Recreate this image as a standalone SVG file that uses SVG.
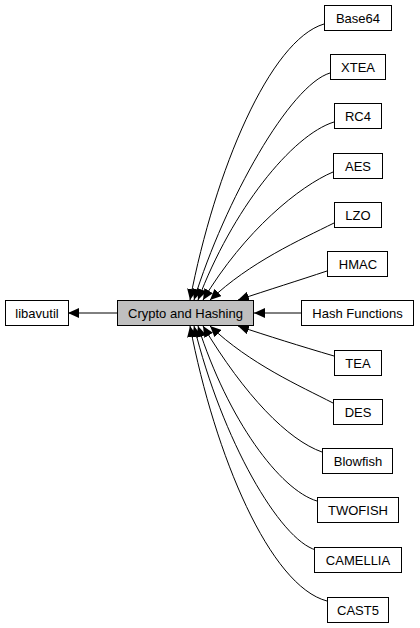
<svg xmlns="http://www.w3.org/2000/svg" width="420" height="628" viewBox="0 0 420 628">
<style>
.n rect{fill:#fff;stroke:#000;stroke-width:1}
.n text{font-family:"Liberation Sans",Arial,sans-serif;font-size:13px;text-anchor:middle;fill:#000}
#crypto rect{fill:#bfbfbf}
.e path{fill:none;stroke:#000;stroke-width:1;marker-end:url(#ah)}
</style>
<defs>
<marker id="ah" markerUnits="userSpaceOnUse" markerWidth="11" markerHeight="10" refX="11" refY="5" orient="auto">
<path d="M0,0 L11,5 L0,10 z" fill="#000"/>
</marker>
</defs>
<g class="e" id="edges">
<path d="M117,313 L68,313"/>
<path d="M301,313 L254,313"/>
<path d="M324,24 C270,40 215,170 190,300"/>
<path d="M330,73 C290,85 225,200 194,300"/>
<path d="M334,122 C292,135 232,210 198,300"/>
<path d="M333,172 C300,186 245,230 203,300"/>
<path d="M334,223 C300,240 250,262 210,300"/>
<path d="M327,271 C300,280 268,290 238,300"/>
<path d="M334,356 C300,346 268,336 238,326"/>
<path d="M333,403 C300,386 250,364 210,326"/>
<path d="M322,452 C288,440 245,396 203,326"/>
<path d="M317,501 C280,490 228,420 198,326"/>
<path d="M316,550 C280,540 222,440 194,326"/>
<path d="M327,601 C270,586 215,456 190,326"/>
</g>
<g class="n" id="libavutil"><rect x="5.5" y="300.5" width="63" height="25"/><text x="37" y="318">libavutil</text></g>
<g class="n" id="crypto"><rect x="117.5" y="300.5" width="136" height="25"/><text x="185.5" y="318">Crypto and Hashing</text></g>
<g class="n" id="base64"><rect x="324.5" y="5.5" width="67" height="25"/><text x="358" y="23">Base64</text></g>
<g class="n" id="xtea"><rect x="330.5" y="54.5" width="55" height="25"/><text x="358" y="72">XTEA</text></g>
<g class="n" id="rc4"><rect x="334.5" y="103.5" width="47" height="25"/><text x="358" y="121">RC4</text></g>
<g class="n" id="aes"><rect x="333.5" y="153.5" width="49" height="25"/><text x="358" y="171">AES</text></g>
<g class="n" id="lzo"><rect x="334.5" y="202.5" width="47" height="25"/><text x="358" y="220">LZO</text></g>
<g class="n" id="hmac"><rect x="327.5" y="251.5" width="60" height="25"/><text x="358" y="269">HMAC</text></g>
<g class="n" id="hash"><rect x="301.5" y="300.5" width="112" height="25"/><text x="357.5" y="318">Hash Functions</text></g>
<g class="n" id="tea"><rect x="334.5" y="350.5" width="47" height="25"/><text x="358" y="368">TEA</text></g>
<g class="n" id="des"><rect x="333.5" y="399.5" width="49" height="25"/><text x="358" y="417">DES</text></g>
<g class="n" id="blowfish"><rect x="322.5" y="448.5" width="70" height="25"/><text x="358" y="466">Blowfish</text></g>
<g class="n" id="twofish"><rect x="317.5" y="497.5" width="81" height="25"/><text x="358" y="515">TWOFISH</text></g>
<g class="n" id="camellia"><rect x="314.5" y="547.5" width="87" height="25"/><text x="358" y="565">CAMELLIA</text></g>
<g class="n" id="cast5"><rect x="327.5" y="597.5" width="61" height="25"/><text x="358" y="615">CAST5</text></g>
</svg>
